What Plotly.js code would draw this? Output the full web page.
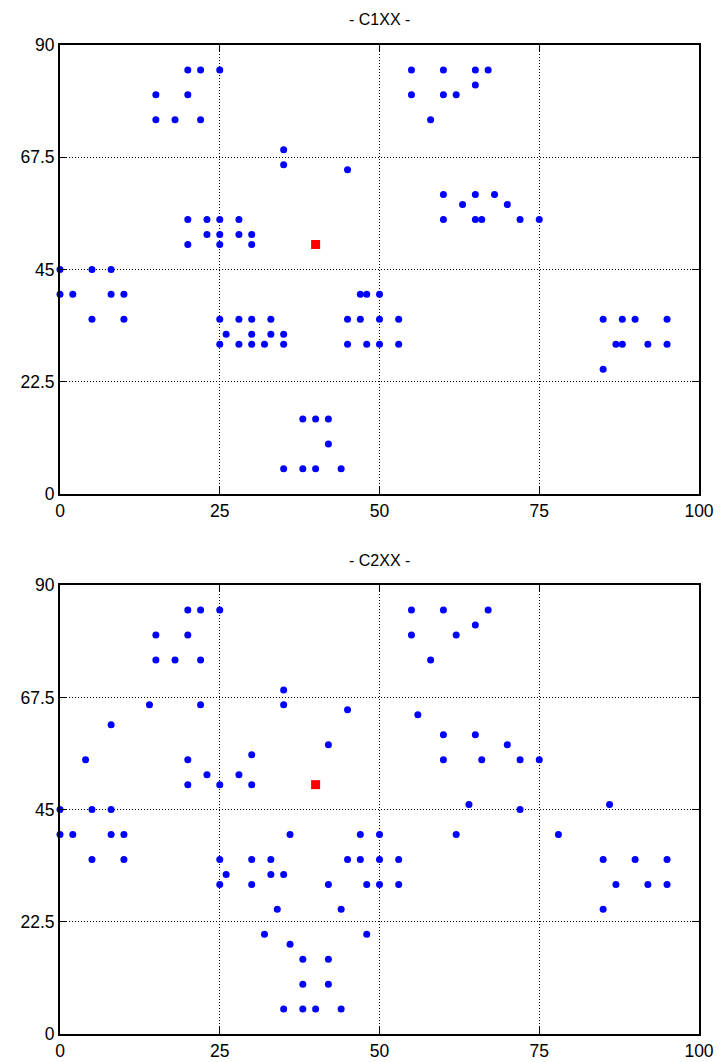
<!DOCTYPE html>
<html>
<head>
<meta charset="utf-8">
<script src="https://cdn.plot.ly/plotly-3.0.1.min.js"></script>
<style>
  html, body { margin: 0; padding: 0; background: #fff; }
  #chart { width: 720px; height: 1062px; }
</style>
</head>
<body>
<div id="chart"></div>
<script>
// Panel titles
const panelTitles = ["- C1XX -", "- C2XX -"];

// Axis ticks (shared by both panels)
const xTicks = [0, 25, 50, 75, 100];
const yTicks = [0, 22.5, 45, 67.5, 90];
const yTickText = ["0", "22.5", "45", "67.5", "90"];

// Panel C1XX: member positions
const c1x = [20, 22, 25, 15, 20, 15, 18, 22,
             35, 35, 45,
             20, 23, 25, 28, 23, 25, 28, 30, 20, 25, 30,
             55, 60, 65, 67, 65, 55, 60, 62, 58,
             60, 65, 68, 63, 70, 60, 65, 66, 72, 75,
             0, 5, 8, 0, 2, 8, 10, 5, 10,
             25, 28, 30, 33, 26, 30, 33, 35, 25, 28, 30, 32, 35,
             38, 40, 42, 42, 35, 38, 40, 44,
             47, 48, 50, 45, 47, 50, 53, 45, 48, 50, 53,
             85, 88, 90, 95, 87, 88, 92, 95, 85];
const c1y = [85, 85, 85, 80, 80, 75, 75, 75,
             69, 66, 65,
             55, 55, 55, 55, 52, 52, 52, 52, 50, 50, 50,
             85, 85, 85, 85, 82, 80, 80, 80, 75,
             60, 60, 60, 58, 58, 55, 55, 55, 55, 55,
             45, 45, 45, 40, 40, 40, 40, 35, 35,
             35, 35, 35, 35, 32, 32, 32, 32, 30, 30, 30, 30, 30,
             15, 15, 15, 10, 5, 5, 5, 5,
             40, 40, 40, 35, 35, 35, 35, 30, 30, 30, 30,
             35, 35, 35, 35, 30, 30, 30, 30, 25];

// Panel C2XX: member positions
const c2x = [20, 22, 25, 15, 20, 15, 18, 22,
             35, 14, 22, 35, 45, 8, 42, 30, 4, 20, 23, 28, 20, 25, 30,
             55, 60, 67, 65, 55, 62, 58, 56,
             60, 65, 70, 60, 66, 72, 75,
             0, 5, 8, 0, 2, 8, 10, 5, 10,
             25, 30, 33, 26, 33, 35, 25, 30, 36, 34, 32, 36,
             38, 42, 38, 42, 35, 38, 40, 44,
             42, 44, 48, 47, 50, 45, 47, 50, 53, 48, 50, 53,
             64, 72, 62, 78, 86,
             85, 90, 95, 87, 92, 95, 85];
const c2y = [85, 85, 85, 80, 80, 75, 75, 75,
             69, 66, 66, 66, 65, 62, 58, 56, 55, 55, 52, 52, 50, 50, 50,
             85, 85, 85, 82, 80, 80, 75, 64,
             60, 60, 58, 55, 55, 55, 55,
             45, 45, 45, 40, 40, 40, 40, 35, 35,
             35, 35, 35, 32, 32, 32, 30, 30, 40, 25, 20, 18,
             15, 15, 10, 10, 5, 5, 5, 5,
             30, 25, 20, 40, 40, 35, 35, 35, 35, 30, 30, 30,
             46, 45, 40, 40, 46,
             35, 35, 35, 30, 30, 30, 25];

// Centre point marked in each panel
const centreX = [40];
const centreY = [50];

const FONT = "Liberation Sans, Arial, Helvetica, sans-serif";

function members(x, y, xa, ya) {
  return {
    type: "scatter", mode: "markers", x: x, y: y, xaxis: xa, yaxis: ya,
    marker: { symbol: "circle", size: 7, color: "#0000ff", line: { width: 0 } },
    cliponaxis: false, hoverinfo: "x+y", showlegend: false
  };
}
function centre(xa, ya) {
  return {
    type: "scatter", mode: "markers", x: centreX, y: centreY, xaxis: xa, yaxis: ya,
    marker: { symbol: "square", size: 9, color: "#ff0000", line: { width: 0 } },
    cliponaxis: false, hoverinfo: "x+y", showlegend: false
  };
}

function xAxis(anchor) {
  return {
    anchor: anchor, domain: [0, 1], range: [0, 100],
    tickmode: "array", tickvals: xTicks, ticktext: xTicks.map(String),
    ticks: "inside", ticklen: 7, tickwidth: 1, tickcolor: "#000",
    showline: true, linecolor: "#000", linewidth: 2, mirror: "ticks",
    showgrid: true, gridcolor: "#000", gridwidth: 1, griddash: "1px,2px",
    zeroline: false, fixedrange: true,
    tickfont: { family: FONT, size: 17.5, color: "#000" }
  };
}
function yAxis(anchor, domain) {
  return {
    anchor: anchor, domain: domain, range: [0, 90],
    tickmode: "array", tickvals: yTicks, ticktext: yTickText,
    ticks: "inside", ticklen: 7, tickwidth: 1, tickcolor: "#000",
    showline: true, linecolor: "#000", linewidth: 2, mirror: "ticks",
    showgrid: true, gridcolor: "#000", gridwidth: 1, griddash: "1px,2px",
    zeroline: false, fixedrange: true,
    tickfont: { family: FONT, size: 17.5, color: "#000" }
  };
}

const data = [
  members(c1x, c1y, "x", "y"), centre("x", "y"),
  members(c2x, c2y, "x2", "y2"), centre("x2", "y2")
];

const layout = {
  width: 720, height: 1062,
  margin: { l: 59.5, r: 20.5, t: 45, b: 28.3, pad: 0 },
  paper_bgcolor: "#fff", plot_bgcolor: "#fff",
  font: { family: FONT, color: "#000" },
  showlegend: false,
  xaxis: xAxis("y"),
  yaxis: yAxis("x", [0.5462, 1]),
  xaxis2: xAxis("y2"),
  yaxis2: yAxis("x2", [0, 0.4538]),
  annotations: [
    { text: panelTitles[0], xref: "paper", yref: "paper", x: 0.5, y: 1.0253,
      xanchor: "center", yanchor: "middle", showarrow: false,
      font: { family: FONT, size: 16, color: "#000" } },
    { text: panelTitles[1], xref: "paper", yref: "paper", x: 0.5, y: 0.4791,
      xanchor: "center", yanchor: "middle", showarrow: false,
      font: { family: FONT, size: 16, color: "#000" } }
  ]
};

Plotly.newPlot("chart", data, layout, { displayModeBar: false, staticPlot: true });
</script>
</body>
</html>
